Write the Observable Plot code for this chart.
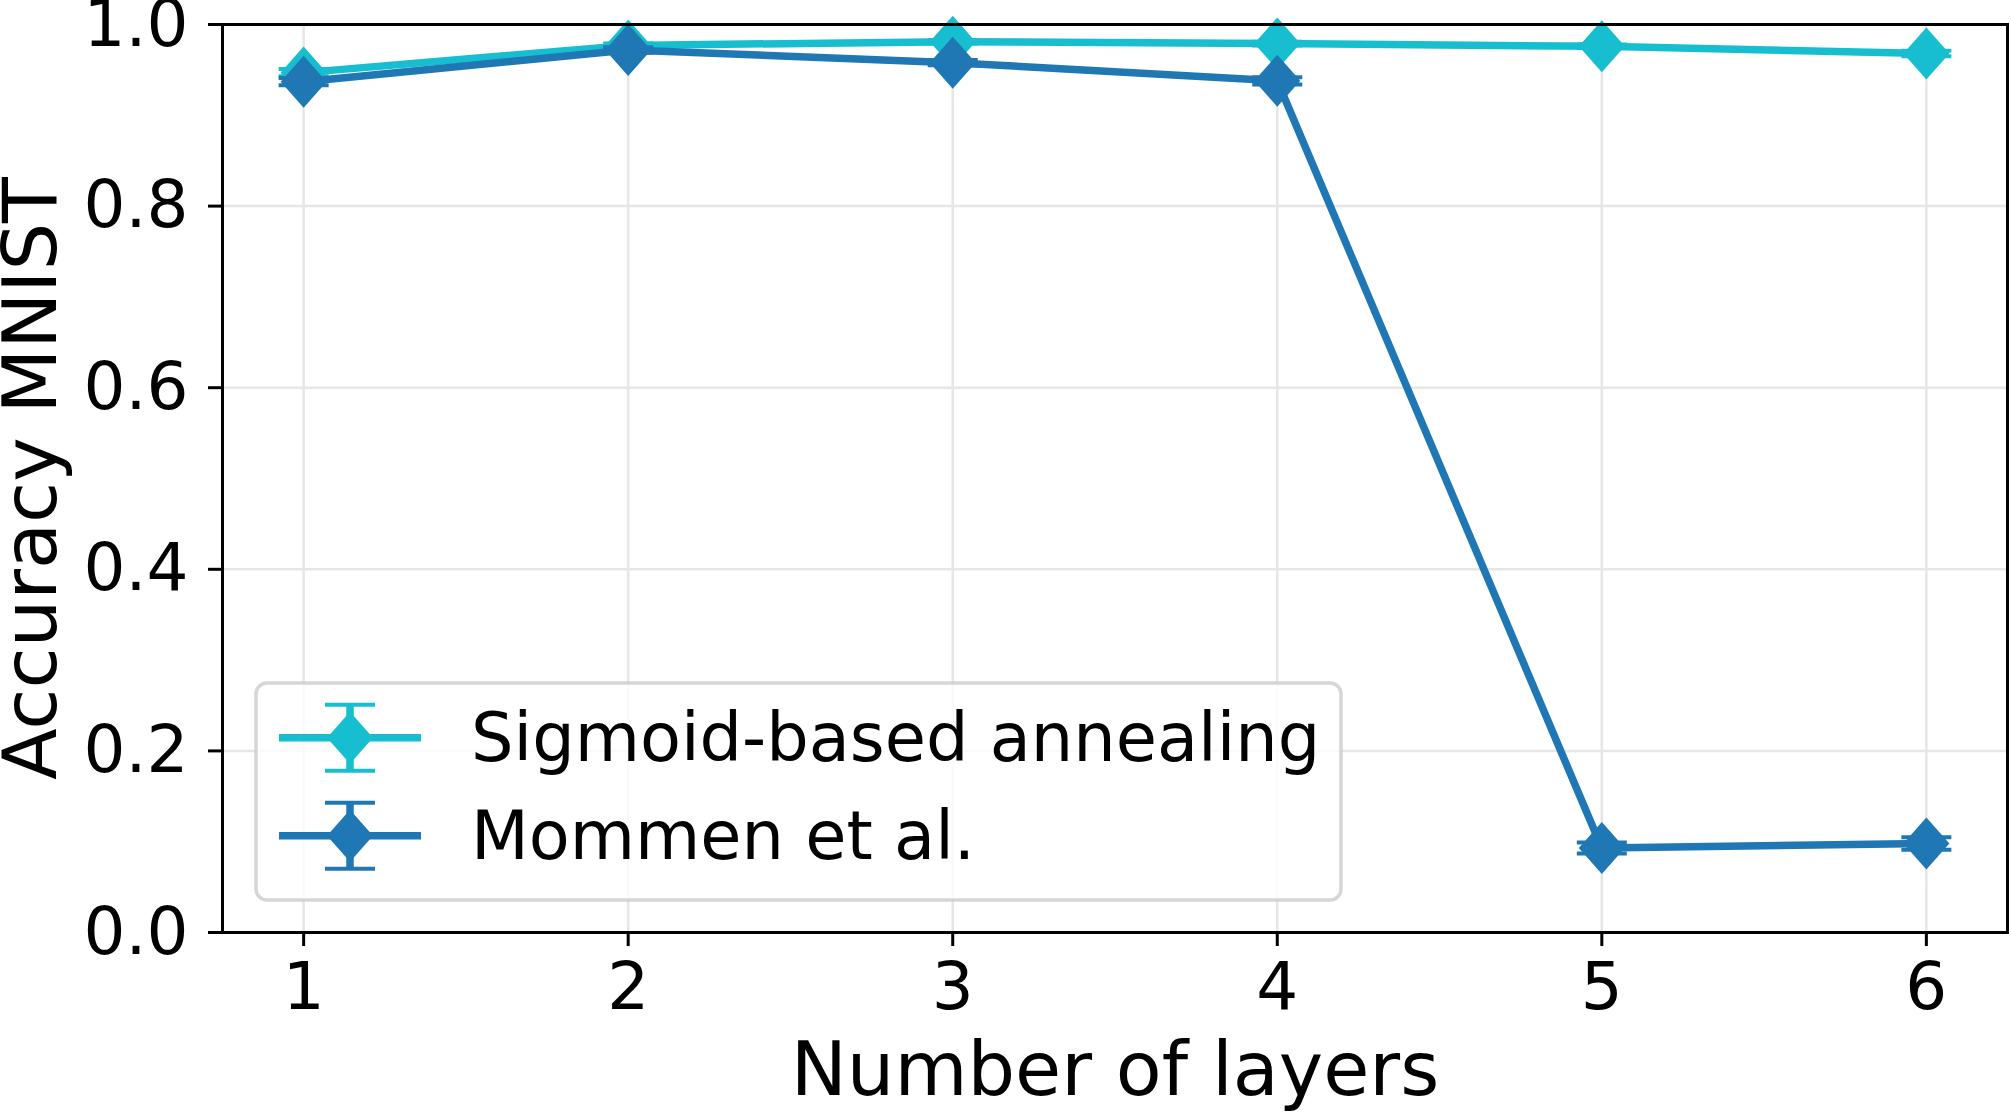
<!DOCTYPE html>
<html><head><meta charset="utf-8">
<script src="https://cdn.jsdelivr.net/npm/d3@7"></script>
<script src="https://cdn.jsdelivr.net/npm/@observablehq/plot@0.6"></script>
<style>
html,body{margin:0;padding:0;background:#fff;}
</style>
</head><body><div id="chart"></div>
<script>
const layers = [1, 2, 3, 4, 5, 6];
const sigmoidAcc = [0.947, 0.977, 0.981, 0.979, 0.976, 0.968];
const sigmoidErr = [0.004, 0.002, 0.002, 0.002, 0.002, 0.003];
const mommenAcc = [0.937, 0.972, 0.958, 0.938, 0.093, 0.098];
const mommenErr = [0.004, 0.003, 0.003, 0.004, 0.006, 0.007];
const seriesNames = ["Sigmoid-based annealing", "Mommen et al."];
const seriesColors = ["#17becf", "#1f77b4"];
const yTicks = [0, 0.2, 0.4, 0.6, 0.8, 1.0];
const xLabel = "Number of layers";
const yLabel = "Accuracy MNIST";

const rows = (acc, err, s) => layers.map((x, i) => ({x, y: acc[i], e: err[i], series: s}));
const seriesData = [
  rows(sigmoidAcc, sigmoidErr, seriesNames[0]),
  rows(mommenAcc, mommenErr, seriesNames[1])
];

const diamond = {draw(ctx) { ctx.moveTo(0, -26); ctx.lineTo(23, 0); ctx.lineTo(0, 26); ctx.lineTo(-23, 0); ctx.closePath(); }};
const capSym = {draw(ctx) { ctx.moveTo(-25, 0); ctx.lineTo(25, 0); }};

const seriesMarks = seriesData.flatMap((d, i) => {
  const c = seriesColors[i];
  return [
    Plot.line(d, {x: "x", y: "y", stroke: c, strokeWidth: 7.5, strokeLinejoin: "round"}),
    Plot.ruleX(d, {x: "x", y1: r => r.y - r.e, y2: r => r.y + r.e, stroke: c, strokeWidth: 7.5}),
    Plot.dot(d, {x: "x", y: r => r.y + r.e, symbol: capSym, fill: "none", stroke: c, strokeWidth: 4}),
    Plot.dot(d, {x: "x", y: r => r.y - r.e, symbol: capSym, fill: "none", stroke: c, strokeWidth: 4}),
    Plot.dot(d, {x: "x", y: "y", symbol: diamond, fill: c, stroke: "none"})
  ];
});

const svg = Plot.plot({
  width: 2011, height: 1116,
  marginLeft: 222, marginRight: 4, marginTop: 24, marginBottom: 184,
  x: {domain: [0.75, 6.25]},
  y: {domain: [0, 1]},
  style: {fontFamily: "DejaVu Sans", fontSize: "65px", color: "black", background: "white", overflow: "visible"},
  marks: [
    Plot.gridX(layers, {stroke: "#e6e6e6", strokeOpacity: 1, strokeWidth: 2.5}),
    Plot.gridY(yTicks, {stroke: "#e6e6e6", strokeOpacity: 1, strokeWidth: 2.5}),
    ...seriesMarks,
    Plot.frame({stroke: "black", strokeWidth: 3}),
    Plot.axisX(layers, {tickSize: 14, tickPadding: 16, strokeWidth: 3, fontSize: 66, tickFormat: d3.format("d"), label: null}),
    Plot.axisY(yTicks, {tickSize: 14, tickPadding: 20, strokeWidth: 3, fontSize: 66, tickFormat: d3.format(".1f"), label: null}),
    Plot.text([xLabel], {text: d => d, frameAnchor: "bottom", lineAnchor: "top", textAnchor: "middle", dy: 109, fontSize: 75}),
    Plot.text([yLabel], {text: d => d, frameAnchor: "left", rotate: -90, lineAnchor: "top", textAnchor: "middle", dx: -220, fontSize: 75})
  ]
});

// Legend (matplotlib-style, inside the axes, lower left)
const lg = d3.select(svg).append("g").attr("font-family", "DejaVu Sans").attr("font-size", 67).attr("text-anchor", "start");
lg.append("rect").attr("x", 256).attr("y", 683).attr("width", 1085).attr("height", 217)
  .attr("rx", 11).attr("fill", "white").attr("fill-opacity", 0.8)
  .attr("stroke", "#cccccc").attr("stroke-opacity", 0.8).attr("stroke-width", 3.5);
const rowY = [737.7, 835.7];
seriesNames.forEach((name, i) => {
  const c = seriesColors[i], cy = rowY[i];
  lg.append("line").attr("x1", 279).attr("x2", 421).attr("y1", cy).attr("y2", cy).attr("stroke", c).attr("stroke-width", 7.5);
  lg.append("line").attr("x1", 350).attr("x2", 350).attr("y1", cy - 33).attr("y2", cy + 33).attr("stroke", c).attr("stroke-width", 7.5);
  [-33, 33].forEach(o => lg.append("line").attr("x1", 325).attr("x2", 375).attr("y1", cy + o).attr("y2", cy + o).attr("stroke", c).attr("stroke-width", 4));
  lg.append("path").attr("d", d3.symbol(diamond)()).attr("transform", `translate(350,${cy})`).attr("fill", c);
  lg.append("text").attr("x", 471).attr("y", cy).attr("dy", "0.35em").attr("text-anchor", "start").attr("fill", "black").text(name);
});

document.getElementById("chart").appendChild(svg);
</script>
</body></html>
